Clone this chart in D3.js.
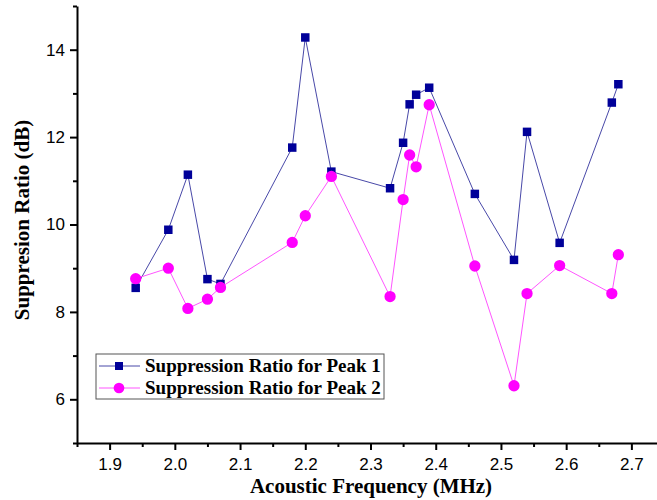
<!DOCTYPE html>
<html>
<head>
<meta charset="utf-8">
<script src="https://cdn.jsdelivr.net/npm/d3@7"></script>
<style>
    body { margin: 0; background: #fff; }
    svg { display: block; }
    .tick text { font-family: "Liberation Sans", Arial, sans-serif; font-size: 17px; fill: #000; }
    .axis-title, .legend text { font-family: "Liberation Serif", "Times New Roman", serif; font-weight: bold; fill: #000; }
</style>
</head>
<body>
<svg id="chart" width="657" height="500"></svg>
<script>
// acoustic frequency (MHz)
const frequencies = [1.94, 1.99, 2.02, 2.05, 2.07, 2.18, 2.20, 2.24, 2.33, 2.35, 2.36, 2.37, 2.39, 2.46, 2.52, 2.54, 2.59, 2.67, 2.68];
// suppression ratio (dB)
const peak1 = [8.55, 9.88, 11.14, 8.75, 8.64, 11.76, 14.28, 11.21, 10.83, 11.87, 12.75, 12.97, 13.13, 10.70, 9.19, 12.12, 9.58, 12.79, 13.21];
const peak2 = [8.76, 9.00, 8.08, 8.29, 8.56, 9.59, 10.20, 11.10, 8.35, 10.57, 11.59, 11.32, 12.74, 9.05, 6.31, 8.42, 9.06, 8.42, 9.31];
const seriesNames = ["Suppression Ratio for Peak 1", "Suppression Ratio for Peak 2"];
const xTicks = [1.9, 2.0, 2.1, 2.2, 2.3, 2.4, 2.5, 2.6, 2.7];
const yTicks = [6, 8, 10, 12, 14];

const series = [
    { name: seriesNames[0], values: peak1, colour: "#000099", line: "#4848a8", symbol: d3.symbolSquare },
    { name: seriesNames[1], values: peak2, colour: "#ff00ff", line: "#ff55ff", symbol: d3.symbolCircle }
];

const svg = d3.select("#chart");
const margin = { left: 77, top: 6, bottom: 443 };

const xScale = d3.scaleLinear().domain([1.85, 2.75]).range([margin.left, 664]);
const yScale = d3.scaleLinear().domain([5, 15]).range([margin.bottom, margin.top]);

// minor ticks sit halfway between the labelled ones
const xMinor = d3.range(1.85, 2.76, 0.1).map(v => +v.toFixed(2));
const yMinor = [5, 7, 9, 11, 13, 15];

const xMinorAxis = svg.append("g")
    .attr("transform", `translate(0,${margin.bottom})`)
    .call(d3.axisBottom(xScale).tickValues(xMinor).tickSize(4).tickFormat(""));
xMinorAxis.select(".domain").remove();

const yMinorAxis = svg.append("g")
    .attr("transform", `translate(${margin.left},0)`)
    .call(d3.axisLeft(yScale).tickValues(yMinor).tickSize(4).tickFormat(""));
yMinorAxis.select(".domain").remove();

const xAxis = svg.append("g")
    .attr("transform", `translate(0,${margin.bottom})`)
    .call(d3.axisBottom(xScale).tickValues(xTicks).tickSize(7).tickSizeOuter(0).tickPadding(8).tickFormat(d3.format(".1f")));

const yAxis = svg.append("g")
    .attr("transform", `translate(${margin.left},0)`)
    .call(d3.axisLeft(yScale).tickValues(yTicks).tickSize(7).tickSizeOuter(0).tickPadding(5));

svg.selectAll(".domain").attr("stroke", "#000").attr("stroke-width", 2);
svg.selectAll(".tick line").attr("stroke", "#000").attr("stroke-width", 2);

// axis titles
svg.append("text")
    .attr("class", "axis-title")
    .attr("x", 371)
    .attr("y", 493)
    .attr("text-anchor", "middle")
    .style("font-size", "21px")
    .text("Acoustic Frequency (MHz)");

svg.append("text")
    .attr("class", "axis-title")
    .attr("transform", "translate(29,220) rotate(-90)")
    .attr("text-anchor", "middle")
    .style("font-size", "21px")
    .text("Suppresion Ratio (dB)");

// lines + markers
const line = d3.line()
    .x((d, i) => xScale(frequencies[i]))
    .y(d => yScale(d));

series.forEach(s => {
    svg.append("path")
        .datum(s.values)
        .attr("fill", "none")
        .attr("stroke", s.line)
        .attr("stroke-width", 1)
        .attr("d", line);
});

series.forEach(s => {
    svg.append("g")
        .selectAll("path")
        .data(s.values)
        .join("path")
        .attr("transform", (d, i) => `translate(${xScale(frequencies[i])},${yScale(d)})`)
        .attr("d", d3.symbol().type(s.symbol).size(s.symbol === d3.symbolSquare ? 72 : 100))
        .attr("fill", s.colour);
});

// legend
const legend = svg.append("g").attr("class", "legend").attr("transform", "translate(96,354)");
legend.append("rect")
    .attr("width", 288)
    .attr("height", 45)
    .attr("fill", "#fff")
    .attr("stroke", "#555")
    .attr("stroke-width", 1);

const item = legend.selectAll("g.item")
    .data(series)
    .join("g")
    .attr("class", "item")
    .attr("transform", (d, i) => `translate(0,${12 + i * 22})`);

item.append("line")
    .attr("x1", 3).attr("x2", 44)
    .attr("stroke", d => d.line)
    .attr("stroke-width", 1);

item.append("path")
    .attr("transform", "translate(23,0)")
    .attr("d", d => d3.symbol().type(d.symbol).size(d.symbol === d3.symbolSquare ? 64 : 90)())
    .attr("fill", d => d.colour);

item.append("text")
    .attr("x", 49)
    .attr("y", 6)
    .style("font-size", "19px")
    .text(d => d.name);
</script>
</body>
</html>
